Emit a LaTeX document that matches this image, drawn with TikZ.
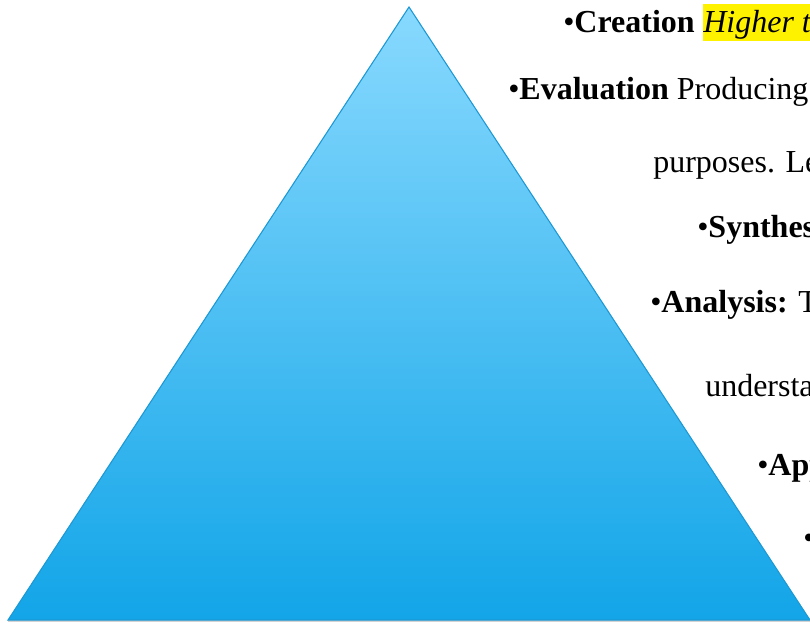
\documentclass[tikz,border=0pt]{standalone}
\usepackage{fontspec}
\setmainfont{Liberation Serif}
\usetikzlibrary{positioning}
\definecolor{pyrtop}{HTML}{88D9FE}
\definecolor{pyrbot}{HTML}{12A5E8}
\definecolor{pyredge}{HTML}{1C98D4}
\begin{document}
\begin{tikzpicture}[x=0.75pt, y=-0.75pt,
    level/.style={anchor=base west, inner sep=0pt, font=\fontsize{24pt}{28pt}\selectfont},
    mark yellow/.style={fill=yellow, inner sep=0pt, text height=21.5pt, text depth=6pt}]
                \useasboundingbox (0,0) rectangle (810,623);
                % pyramid
                \coordinate (apex) at (409,7);
                \coordinate (bl) at (8,620);
                \coordinate (br) at (810,620);
                \fill[gray, opacity=0.35] ([yshift=-1.5pt]bl) -- ([yshift=-1.5pt]br) -- (br) -- (bl) -- cycle;
                \shadedraw[top color=pyrtop, bottom color=pyrbot, draw=pyredge, thick] (apex) -- (br) -- (bl) -- cycle;
                % the levels
                \node[level] (creation) at (563,33) {•\textbf{Creation}};
                \node[level, mark yellow, anchor=base west] (higher) at ([xshift=6pt]creation.base east) {\itshape Higher t};
                \node[level] (evaluation) at (508,100) {•\textbf{Evaluation} Producing};
                \node[level] (purposes) at (653,173) {purposes. Le};
                \node[level] (synthesis) at (697,238) {•\textbf{Synthes}};
                \node[level] (analysis) at (650,313) {•\textbf{Analysis:} T};
                \node[level] (underst) at (705,397) {understa};
                \node[level] (application) at (757,475) {•\textbf{App}};
                \node[level] (knowledge) at (803,548) {•};
\end{tikzpicture}
\end{document}
